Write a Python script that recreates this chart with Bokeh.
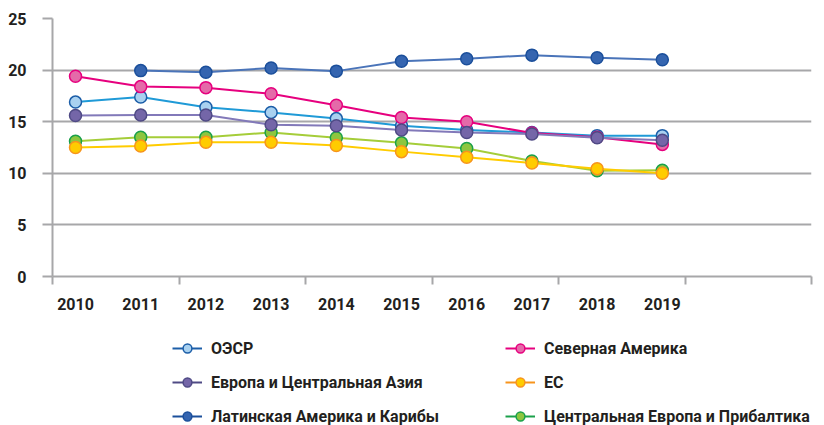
from bokeh.plotting import figure
from bokeh.layouts import column
from bokeh.models import Range1d, FixedTicker, Legend, LegendItem, ColumnDataSource
from bokeh.embed import file_html
from bokeh.resources import INLINE

nan = float("nan")

years = [2010, 2011, 2012, 2013, 2014, 2015, 2016, 2017, 2018, 2019]
year_labels = ["2010", "2011", "2012", "2013", "2014", "2015", "2016", "2017", "2018", "2019"]

oecd = [16.9, 17.4, 16.4, 15.9, 15.3, 14.6, 14.2, 13.95, 13.65, 13.65]
north_america = [19.4, 18.4, 18.3, 17.7, 16.6, 15.4, 15.0, 13.9, 13.5, 12.8]
europe_central_asia = [15.6, 15.65, 15.65, 14.7, 14.6, 14.2, 13.95, 13.8, 13.45, 13.2]
eu = [12.5, 12.65, 13.0, 13.0, 12.7, 12.1, 11.55, 11.0, 10.45, 10.0]
latin_america = [nan, 19.95, 19.8, 20.2, 19.9, 20.85, 21.1, 21.45, 21.2, 21.0]
central_europe_baltics = [13.1, 13.5, 13.5, 13.95, 13.45, 12.95, 12.4, 11.2, 10.25, 10.3]

y_ticks = [0, 5, 10, 15, 20, 25]

names = ["ОЭСР", "Северная Америка", "Европа и Центральная Азия", "ЕС",
         "Латинская Америка и Карибы", "Центральная Европа и Прибалтика"]

GRAY = "#a7a7a9"
TEXT = "#231f20"
FONT = "Roboto"

XS, XE = 2009.647, 2021.288
minor_positions = [XS + k * (XE - XS) / 6 for k in range(7)]

p = figure(width=824, height=320, output_backend="svg", toolbar_location=None,
           x_range=Range1d(XS, XE), y_range=Range1d(0, 25),
           min_border_left=52, min_border_right=13, min_border_top=18, min_border_bottom=44)
p.outline_line_color = None

p.xgrid.visible = False
p.ygrid.ticker = FixedTicker(ticks=y_ticks)
p.ygrid.grid_line_color = GRAY
p.ygrid.grid_line_width = 2

ya = p.yaxis[0]
ya.ticker = FixedTicker(ticks=y_ticks)
ya.axis_line_color = GRAY
ya.axis_line_width = 2
ya.major_tick_line_color = GRAY
ya.major_tick_line_width = 2
ya.major_tick_out = 10
ya.major_tick_in = 0
ya.minor_tick_line_color = None
ya.major_label_standoff = 16
ya.major_label_text_font = FONT
ya.major_label_text_font_style = "bold"
ya.major_label_text_font_size = "16px"
ya.major_label_text_color = TEXT

xa = p.xaxis[0]
xa.ticker = FixedTicker(ticks=years, minor_ticks=minor_positions)
xa.major_label_overrides = {y: s for y, s in zip(years, year_labels)}
xa.axis_line_color = GRAY
xa.axis_line_width = 2
xa.major_tick_line_color = None
xa.major_tick_out = 0
xa.major_tick_in = 0
xa.minor_tick_line_color = GRAY
xa.minor_tick_line_width = 2
xa.minor_tick_out = 8
xa.minor_tick_in = 0
xa.major_label_standoff = 13
xa.major_label_text_font = FONT
xa.major_label_text_font_style = "bold"
xa.major_label_text_font_size = "16px"
xa.major_label_text_color = TEXT

# (values, line colour, marker fill, marker border)
series = {
    "ОЭСР": (oecd, "#1f9ad7", "#a9d1f0", "#1c5ea8"),
    "Северная Америка": (north_america, "#e6007e", "#e46aa9", "#e6007e"),
    "Латинская Америка и Карибы": (latin_america, "#4a74b9", "#3565b0", "#1b4f9b"),
    "Центральная Европа и Прибалтика": (central_europe_baltics, "#a5cd39", "#8dc63f", "#1aa04a"),
    "ЕС": (eu, "#ffcc00", "#ffcc00", "#f7941d"),
    "Европа и Центральная Азия": (europe_central_asia, "#8279b9", "#7466a8", "#4f4a85"),
}

sources = {}
for name, (vals, lc, fc, bc) in series.items():
    src = ColumnDataSource(dict(x=years, y=vals))
    sources[name] = src
    p.line("x", "y", source=src, line_color=lc, line_width=2)
    p.scatter("x", "y", source=src, size=12, fill_color=fc, line_color=bc, line_width=1.5)

# legend panel below the chart (its ranges keep the series out of view)
q = figure(width=824, height=105, output_backend="svg", toolbar_location=None,
           x_range=Range1d(0, 1), y_range=Range1d(0, 1),
           x_axis_location=None, y_axis_location=None,
           min_border_left=0, min_border_right=0, min_border_top=0, min_border_bottom=0)
q.grid.visible = False
q.outline_line_color = None

items = []
for name in names:
    vals, lc, fc, bc = series[name]
    src = sources[name]
    lr = q.line("x", "y", source=src, line_color=bc, line_width=2)
    sr = q.scatter("x", "y", source=src, size=11, fill_color=fc, line_color=bc, line_width=1.5)
    items.append(LegendItem(label=name, renderers=[lr, sr]))

legend = Legend(items=items, location=(120, -2), orientation="horizontal", ncols=2,
                padding=0, spacing=12, glyph_width=30, glyph_height=22,
                label_standoff=9, label_width=282, label_height=22,
                label_text_font=FONT, label_text_font_style="bold",
                label_text_font_size="16px", label_text_color=TEXT,
                border_line_color=None, background_fill_alpha=0)
q.add_layout(legend)

layout = column(p, q, spacing=0)
open("out.html", "w").write(file_html(layout, INLINE))
